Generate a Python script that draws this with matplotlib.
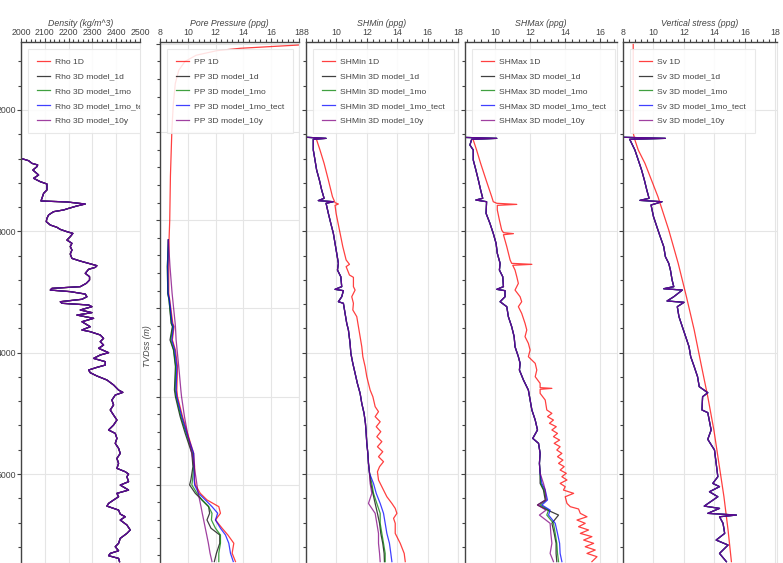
import matplotlib.pyplot as plt
from matplotlib.ticker import MultipleLocator, AutoMinorLocator

plt.rcParams['font.family'] = ['Liberation Sans', 'DejaVu Sans']

# ---------------- data ----------------
model_names = ['1D', '3D model_1d', '3D model_1mo', '3D model_1mo_tect', '3D model_10y']
model_colors = ['red', 'black', 'green', 'blue', 'purple']

# density (all models overlap)
rho_depth = [2399, 2418, 2440, 2453, 2467, 2495, 2536, 2563, 2591, 2610,
             2659, 2687, 2728, 2750, 2758, 2775, 2791, 2811, 2824, 2838,
             2865, 2893, 2920, 2948, 2967, 2984, 3003, 3017, 3044, 3072,
             3099, 3126, 3154, 3187, 3223, 3245, 3264, 3283, 3297, 3313,
             3346, 3374, 3401, 3429, 3456, 3470, 3484, 3497, 3517, 3539,
             3560, 3580, 3593, 3607, 3621, 3648, 3670, 3690, 3717, 3745,
             3786, 3813, 3827, 3854, 3882, 3909, 3937, 3964, 4000, 4019,
             4047, 4074, 4102, 4121, 4143, 4165, 4192, 4225, 4266, 4308,
             4327, 4349, 4390, 4431, 4472, 4514, 4555, 4596, 4637, 4665,
             4706, 4747, 4788, 4830, 4871, 4912, 4953, 4981, 5000, 5022,
             5063, 5091, 5132, 5159, 5187, 5214, 5242, 5264, 5297, 5330,
             5352, 5379, 5420, 5461, 5489, 5530, 5571, 5599, 5632, 5654,
             5673, 5695, 5722]
rho_vals = [2000, 2032, 2046, 2070, 2067, 2050, 2074, 2053, 2081, 2109,
            2109, 2095, 2088, 2084, 2193, 2270, 2235, 2200, 2179, 2137,
            2116, 2109, 2106, 2123, 2151, 2165, 2193, 2218, 2207, 2193,
            2214, 2207, 2214, 2207, 2214, 2249, 2284, 2319, 2312, 2284,
            2270, 2288, 2288, 2274, 2249, 2130, 2123, 2207, 2270, 2277,
            2256, 2165, 2172, 2284, 2298, 2249, 2298, 2235, 2305, 2256,
            2291, 2256, 2291, 2333, 2347, 2333, 2347, 2326, 2368, 2333,
            2305, 2354, 2354, 2319, 2284, 2291, 2319, 2361, 2389, 2410,
            2428, 2396, 2382, 2389, 2375, 2389, 2403, 2389, 2368, 2396,
            2403, 2396, 2410, 2417, 2403, 2410, 2403, 2438, 2452, 2445,
            2452, 2417, 2452, 2403, 2410, 2389, 2368, 2361, 2410, 2417,
            2438, 2417, 2445, 2459, 2445, 2417, 2410, 2396, 2410, 2375,
            2368, 2410, 2414]

# pore pressure (own depth scale)
pp1d_top_depth = [0, 14, 51, 78, 130, 200, 300, 450, 700, 1000, 1500, 2000]
pp1d_top_vals = [20.0, 18.0, 13.8, 12.1, 10.6, 9.8, 9.35, 9.1, 8.95, 8.85, 8.75, 8.7]
pp_depth = [2224, 2527, 2829, 2905, 3169, 3207, 3358, 3472, 3661, 3925,
            4001, 4227, 4416, 4643, 4794, 4945, 5002, 5097, 5172, 5248,
            5323, 5399, 5493, 5569, 5663, 5776, 5871]
pp_1d = [8.65, 8.63, 8.63, 8.70, 8.92, 9.01, 8.89, 9.11, 9.26, 9.21,
         9.26, 9.62, 9.98, 10.42, 10.49, 10.49, 10.54, 10.90, 11.38, 12.23,
         12.35, 11.99, 12.47, 12.88, 13.31, 13.19, 13.43]
pp_1d_mod = [8.60, 8.53, 8.56, 8.65, 8.80, 8.89, 8.72, 8.97, 9.11, 9.04,
             9.11, 9.45, 9.81, 10.29, 10.37, 10.22, 10.13, 10.54, 11.02, 11.50,
             11.57, 11.38, 11.67, 12.30, 12.30, 12.06, 11.91]
pp_1mo = [8.60, 8.53, 8.56, 8.65, 8.82, 8.92, 8.77, 8.99, 9.14, 9.09,
          9.16, 9.50, 9.88, 10.34, 10.42, 10.34, 10.29, 10.66, 11.02, 11.50,
          11.74, 11.70, 11.99, 12.35, 12.35, 12.23, 12.23]
pp_1mo_tect = [8.60, 8.56, 8.58, 8.68, 8.87, 8.97, 8.85, 9.06, 9.21, 9.16,
               9.21, 9.57, 9.93, 10.42, 10.46, 10.46, 10.49, 10.78, 11.26, 11.74,
               12.15, 11.99, 12.35, 12.71, 12.95, 13.07, 13.27]
pp_10y = [8.60, 8.72, 8.87, 8.92, 9.09, 9.11, 9.16, 9.23, 9.35, 9.50,
          9.55, 9.76, 9.98, 10.29, 10.46, 10.61, 10.66, 10.75, 10.85, 10.95,
          11.04, 11.14, 11.26, 11.36, 11.48, 11.60, 11.74]

# SHMin
shmin_1d_depth = [2247, 2330, 2440, 2577, 2714, 2764, 2775, 2786, 2852, 2989,
                  3126, 3236, 3272, 3291, 3360, 3379, 3456, 3484, 3539, 3593,
                  3648, 3703, 3786, 3868, 3951, 4033, 4115, 4198, 4308, 4363,
                  4445, 4486, 4527, 4569, 4610, 4651, 4692, 4733, 4775, 4816,
                  4857, 4898, 4939, 4981, 5049, 5132, 5187, 5242, 5283, 5324,
                  5365, 5406, 5489, 5571, 5654, 5722]
shmin_1d = [8.70, 8.92, 9.19, 9.47, 9.74, 9.91, 10.13, 9.91, 9.98, 10.20,
            10.42, 10.64, 10.86, 10.64, 10.86, 11.12, 11.12, 11.23, 11.01, 11.12,
            11.08, 11.34, 11.45, 11.56, 11.67, 11.74, 11.89, 12.00, 12.22, 12.40,
            12.55, 12.77, 12.55, 12.88, 12.62, 12.92, 12.66, 12.99, 12.70, 13.05,
            12.77, 13.10, 12.84, 12.70, 12.77, 13.10, 13.32, 13.65, 13.87, 13.98,
            13.76, 13.87, 13.87, 14.20, 14.46, 14.53]
shmin_3d_depth = [2225, 2234, 2242, 2330, 2412, 2495, 2577, 2659, 2728, 2747,
                  2756, 2769, 2852, 2934, 3017, 3099, 3181, 3264, 3319, 3374,
                  3456, 3478, 3489, 3539, 3580, 3593, 3676, 3758, 3813, 3923,
                  4005, 4088, 4170, 4253, 4335, 4418, 4500, 4582, 4665, 4747,
                  4830, 4912, 4994]
shmin_3d = [8.0, 9.32, 8.48, 8.48, 8.59, 8.70, 8.88, 9.03, 9.19, 8.81,
            9.80, 9.32, 9.47, 9.63, 9.80, 9.91, 10.02, 10.13, 10.07, 10.29,
            10.35, 9.91, 10.46, 10.35, 10.13, 10.46, 10.57, 10.68, 10.79, 10.90,
            10.95, 11.08, 11.23, 11.38, 11.56, 11.67, 11.82, 11.91, 11.96, 12.00,
            12.07, 12.11, 12.18]
shmin_low_depth = [5077, 5159, 5242, 5324, 5406, 5489, 5571, 5654, 5722]
shmin_low_1d = [12.26, 12.40, 12.55, 12.70, 12.84, 12.92, 13.05, 13.14, 13.16]
shmin_low_1mo = [12.33, 12.44, 12.66, 12.88, 12.88, 12.99, 13.10, 13.21, 13.21]
shmin_low_tect = [12.44, 12.62, 12.88, 13.10, 13.21, 13.32, 13.49, 13.58, 13.65]
shmin_low_10y = [12.22, 12.33, 12.11, 12.55, 12.66, 12.77, 12.77, 12.84, 12.88]

# SHMax
shmax_1d_depth = [2247, 2330, 2440, 2577, 2714, 2756, 2769, 2778, 2786, 2824,
                  2907, 2989, 3011, 3019, 3028, 3126, 3236, 3264, 3272, 3280,
                  3319, 3374, 3429, 3484, 3539, 3580, 3621, 3676, 3758, 3813,
                  3868, 3923, 3978, 4033, 4088, 4143, 4198, 4253, 4288, 4294,
                  4302, 4335, 4390, 4472, 4500, 4527, 4555, 4582, 4610, 4637,
                  4665, 4692, 4720, 4747, 4775, 4802, 4830, 4857, 4885, 4912,
                  4939, 4967, 4994, 5022, 5049, 5077, 5104, 5132, 5159, 5187,
                  5242, 5269, 5288, 5324, 5352, 5379, 5406, 5434, 5461, 5489,
                  5516, 5544, 5571, 5599, 5626, 5654, 5681, 5722]
shmax_1d = [8.76, 8.95, 9.18, 9.49, 9.81, 9.90, 10.10, 11.24, 10.13, 10.13,
            10.25, 10.38, 10.48, 11.05, 10.48, 10.67, 10.86, 10.95, 12.10, 11.01,
            11.14, 11.24, 11.33, 11.14, 11.43, 11.52, 11.33, 11.52, 11.71, 11.81,
            11.71, 11.90, 12.00, 11.90, 12.29, 12.38, 12.29, 12.57, 12.57, 13.24,
            12.57, 12.57, 12.86, 12.95, 13.24, 12.99, 13.33, 13.10, 13.49, 13.24,
            13.56, 13.33, 13.68, 13.37, 13.71, 13.52, 13.81, 13.56, 13.87, 13.62,
            13.94, 13.71, 14.06, 13.81, 14.10, 13.71, 14.00, 13.90, 14.48, 14.00,
            14.10, 14.29, 14.76, 14.86, 15.24, 14.67, 15.14, 14.76, 15.33, 14.86,
            15.52, 15.05, 15.62, 15.14, 15.71, 15.24, 15.81, 15.52]
shmax_3d_depth = [2225, 2234, 2242, 2289, 2330, 2412, 2495, 2577, 2659, 2728,
                  2742, 2756, 2852, 2934, 3017, 3099, 3181, 3264, 3319, 3374,
                  3456, 3478, 3489, 3539, 3580, 3621, 3703, 3786, 3868, 3951,
                  4033, 4088, 4143, 4225, 4308, 4390, 4472, 4555, 4637, 4706,
                  4747, 4830, 4912, 4994]
shmax_3d = [8.0, 10.10, 8.67, 8.57, 8.76, 8.76, 8.91, 9.05, 9.18, 9.30,
            8.91, 9.52, 9.49, 9.71, 9.90, 10.06, 10.13, 10.29, 10.25, 10.44,
            10.48, 10.10, 10.57, 10.57, 10.29, 10.67, 10.76, 10.95, 11.09, 11.14,
            11.33, 11.43, 11.39, 11.62, 11.90, 12.00, 12.10, 12.29, 12.42, 12.15,
            12.48, 12.57, 12.53, 12.57]
shmax_low_depth = [5077, 5132, 5214, 5255, 5297, 5338, 5406, 5489, 5571, 5654, 5722]
shmax_low_1d = [12.57, 12.76, 12.86, 12.42, 12.99, 13.62, 13.24, 13.37, 13.48, 13.48, 13.52]
shmax_low_1mo = [12.61, 12.80, 12.91, 12.57, 13.05, 12.95, 13.33, 13.43, 13.52, 13.56, 13.62]
shmax_low_tect = [12.67, 12.86, 12.99, 12.67, 13.14, 13.05, 13.43, 13.56, 13.68, 13.71, 13.81]
shmax_low_10y = [12.76, 12.86, 12.91, 12.42, 12.91, 12.53, 13.14, 13.18, 13.24, 13.14, 13.33]

# vertical stress
sv_1d_depth = [1460, 2190, 2247, 2330, 2440, 2714, 2989, 3264, 3539, 3813,
               4088, 4363, 4637, 4912, 5187, 5461, 5722]
sv_1d = [8.67, 8.67, 8.78, 9.0, 9.44, 10.29, 11.0, 11.62, 12.16, 12.67,
         13.11, 13.56, 13.96, 14.29, 14.62, 14.89, 15.11]
sv_3d_depth = [2225, 2234, 2242, 2330, 2412, 2495, 2577, 2659, 2728, 2745,
               2756, 2783, 2879, 2962, 3044, 3126, 3209, 3264, 3319, 3401,
               3456, 3473, 3484, 3539, 3574, 3585, 3621, 3703, 3786, 3868,
               3951, 4033, 4115, 4198, 4280, 4330, 4363, 4472, 4494, 4637,
               4714, 4802, 4912, 5022, 5077, 5104, 5146, 5187, 5264, 5283,
               5324, 5338, 5352, 5406, 5489, 5544, 5585, 5654, 5722]
sv_3d = [8.0, 10.78, 8.44, 8.78, 9.0, 9.22, 9.40, 9.56, 9.71, 9.11,
         10.56, 9.84, 10.0, 10.22, 10.44, 10.67, 10.78, 11.0, 11.11, 11.22,
         11.33, 10.67, 11.89, 11.33, 10.89, 12.0, 11.56, 11.67, 11.89, 12.11,
         12.33, 12.44, 12.67, 12.89, 13.0, 13.56, 13.22, 13.18, 13.56, 13.78,
         13.56, 14.0, 14.11, 14.22, 13.89, 14.33, 13.67, 14.22, 13.33, 14.33,
         13.56, 15.44, 14.33, 14.56, 14.67, 14.11, 14.89, 14.33, 14.78]

# ---------------- figure ----------------
W, H = 783, 563
TOP = 42
fig = plt.figure(figsize=(W / 100, H / 100), dpi=100)
GRAY = '#444444'


def make_axes(x0, x1):
    return fig.add_axes([x0 / W, 0, (x1 - x0) / W, 1 - TOP / H])


def style(ax, title, xlim, ylim, xstep, ylabels=False):
    ax.set_xlim(*xlim)
    ax.set_ylim(*ylim)
    ax.xaxis.set_major_locator(MultipleLocator(xstep))
    ax.xaxis.set_minor_locator(AutoMinorLocator(5))
    ax.yaxis.set_major_locator(MultipleLocator(1000))
    ax.yaxis.set_minor_locator(AutoMinorLocator(5))
    ax.grid(True, which='major', color='#e5e5e5', lw=0.8)
    ax.set_axisbelow(True)
    for s in ['right', 'bottom']:
        ax.spines[s].set_color('#e5e5e5')
    for s in ['left', 'top']:
        ax.spines[s].set_color(GRAY)
        ax.spines[s].set_linewidth(1.0)
    ax.tick_params(which='both', direction='out', colors=GRAY, labelsize=6.3, pad=1)
    ax.tick_params(which='major', length=2.6, width=0.8)
    ax.tick_params(which='minor', length=2.0, width=0.8)
    ax.tick_params(axis='x', which='both', top=True, bottom=False, labeltop=True, labelbottom=False)
    ax.tick_params(axis='y', which='both', right=False, labelleft=ylabels)
    ax.set_title(title, fontsize=6.3, style='italic', color=GRAY, pad=1.5)


def add_legend(ax, clip=False):
    leg = ax.legend(loc='upper left', fontsize=6.1, frameon=True, fancybox=False,
                    edgecolor='#e5e5e5', framealpha=0.85, handlelength=1.55,
                    handletextpad=0.55, labelspacing=0.79, borderpad=1.05,
                    borderaxespad=0.85)
    leg.get_frame().set_linewidth(0.8)
    for t in leg.get_texts():
        t.set_color(GRAY)
    if clip:
        for a in leg.findobj():
            a.set_clip_on(True)
            a.set_clip_box(ax.bbox)


def draw(ax, prefix, series):
    for (dep, val), name, col in zip(series, model_names, model_colors):
        ax.plot(val, dep, color=col, lw=0.9, alpha=0.75, label=f'{prefix} {name}')


ylim_main = (5733, 1440)

# Density
ax1 = make_axes(21, 140)
draw(ax1, 'Rho', [(rho_depth, rho_vals)] * 5)
style(ax1, 'Density (kg/m^3)', (2000, 2500), ylim_main, 100, ylabels=True)
add_legend(ax1, clip=True)

# Pore pressure
ax2 = make_axes(160, 299)
draw(ax2, 'PP', [(pp1d_top_depth + pp_depth, pp1d_top_vals + pp_1d),
                 (pp_depth, pp_1d_mod), (pp_depth, pp_1mo),
                 (pp_depth, pp_1mo_tect), (pp_depth, pp_10y)])
style(ax2, 'Pore Pressure (ppg)', (8, 18), (5887, -20), 2)
add_legend(ax2)

# SHMin
ax3 = make_axes(306, 458)
draw(ax3, 'SHMin', [(shmin_1d_depth, shmin_1d),
                    (shmin_3d_depth + shmin_low_depth, shmin_3d + shmin_low_1d),
                    (shmin_3d_depth + shmin_low_depth, shmin_3d + shmin_low_1mo),
                    (shmin_3d_depth + shmin_low_depth, shmin_3d + shmin_low_tect),
                    (shmin_3d_depth + shmin_low_depth, shmin_3d + shmin_low_10y)])
style(ax3, 'SHMin (ppg)', (8, 18), ylim_main, 2)
add_legend(ax3)

# SHMax
ax4 = make_axes(465, 617)
draw(ax4, 'SHMax', [(shmax_1d_depth, shmax_1d),
                    (shmax_3d_depth + shmax_low_depth, shmax_3d + shmax_low_1d),
                    (shmax_3d_depth + shmax_low_depth, shmax_3d + shmax_low_1mo),
                    (shmax_3d_depth + shmax_low_depth, shmax_3d + shmax_low_tect),
                    (shmax_3d_depth + shmax_low_depth, shmax_3d + shmax_low_10y)])
style(ax4, 'SHMax (ppg)', (8.29, 16.95), ylim_main, 2)
add_legend(ax4)

# Vertical stress
ax5 = make_axes(623, 777)
draw(ax5, 'Sv', [(sv_1d_depth, sv_1d)] + [(sv_3d_depth, sv_3d)] * 4)
style(ax5, 'Vertical stress (ppg)', (8, 18.1), ylim_main, 2)
add_legend(ax5)

fig.text(148 / W, 1 - 346 / H, 'TVDss (m)', rotation=90, ha='center', va='center',
         fontsize=6.3, style='italic', color=GRAY)

fig.savefig('out.png', dpi=100)
